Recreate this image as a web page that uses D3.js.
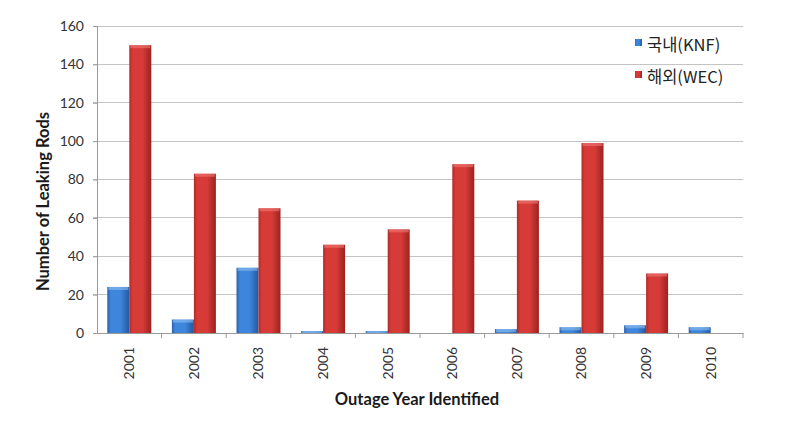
<!DOCTYPE html>
<html><head><meta charset="utf-8">
<script src="https://cdn.jsdelivr.net/npm/d3@7"></script>
<style>body{margin:0;background:#fff}svg{display:block}</style>
</head><body>
<script>
const years = ["2001","2002","2003","2004","2005","2006","2007","2008","2009","2010"];
const knf = [24, 7, 34, 1, 1, 0, 2, 3, 4, 3];
const wec = [150, 83, 65, 46, 54, 88, 69, 99, 31, 0];
const seriesNames = ["국내(KNF)", "해외(WEC)"];
const yTicks = [0, 20, 40, 60, 80, 100, 120, 140, 160];

const W = 794, H = 423;
const m = {left: 97, right: 51, top: 26, bottom: 90};
const svg = d3.select("body").append("svg").attr("width", W).attr("height", H);
const defs = svg.append("defs");
function grad(id, edge, light, edge2) {
  const g = defs.append("linearGradient").attr("id", id).attr("x1", 0).attr("x2", 1).attr("y1", 0).attr("y2", 0);
  g.append("stop").attr("offset", "0%").attr("stop-color", edge);
  g.append("stop").attr("offset", "15%").attr("stop-color", light);
  g.append("stop").attr("offset", "60%").attr("stop-color", light);
  g.append("stop").attr("offset", "100%").attr("stop-color", edge2);
}
grad("gBlue", "#2a5fa8", "#3d86dc", "#2458a0");
grad("gRed", "#b02a28", "#d63b37", "#9c2220");

const x = d3.scaleBand().domain(years).range([m.left, W - m.right]);
const xs = d3.scaleBand().domain([0, 1]).range([0, 44]);
const y = d3.scaleLinear().domain([0, 160]).range([H - m.bottom, m.top]);

const font = "Lato, 'Noto Sans', sans-serif";

// gridlines
svg.append("g").selectAll("line").data(yTicks.slice(1)).join("line")
  .attr("x1", m.left - 4).attr("x2", W - m.right)
  .attr("y1", d => y(d)).attr("y2", d => y(d))
  .attr("stroke", "#c4c4c4").attr("stroke-width", 1).attr("shape-rendering", "crispEdges");

// bars
const series = [knf, wec];
const fills = ["url(#gBlue)", "url(#gRed)"];
series.forEach((vals, si) => {
  svg.append("g").selectAll("rect").data(years).join("rect")
    .attr("x", (d) => x(d) + (x.bandwidth() - 44) / 2 + xs(si))
    .attr("width", xs.bandwidth())
    .attr("y", (d, i) => y(vals[i]))
    .attr("height", (d, i) => y(0) - y(vals[i]))
    .attr("fill", fills[si]);
  svg.append("g").selectAll("rect").data(years).join("rect")
    .attr("x", (d) => x(d) + (x.bandwidth() - 44) / 2 + xs(si) + 1)
    .attr("width", xs.bandwidth() - 2)
    .attr("y", (d, i) => y(vals[i]))
    .attr("height", (d, i) => Math.min(3, y(0) - y(vals[i])))
    .attr("fill", si === 0 ? "#8fc0f0" : "#ee7a74").attr("opacity", 0.6);
});

// y axis
const yAxis = svg.append("g").attr("transform", `translate(${m.left},0)`)
  .call(d3.axisLeft(y).tickValues(yTicks).tickSize(4).tickPadding(9));
yAxis.select(".domain").attr("stroke", "#9a9a9a");
yAxis.selectAll(".tick line").attr("stroke", "#9a9a9a");
yAxis.selectAll("text").attr("font-family", font).attr("font-size", 14).attr("fill", "#333");

// x axis
const xAxis = svg.append("g").attr("transform", `translate(0,${y(0)})`)
  .call(d3.axisBottom(x).tickSize(0));
xAxis.select(".domain").attr("stroke", "#9a9a9a");
xAxis.selectAll(".tick line").remove();
xAxis.selectAll("text").attr("font-family", font).attr("font-size", 14).attr("fill", "#333")
  .attr("transform", "rotate(-90)").attr("text-anchor", "end").attr("dy", "0.35em").attr("dx", "-14").attr("y", 0).attr("x", 0);
// between-category tick marks
svg.append("g").selectAll("line").data(years.slice(1).concat(["end"])).join("line")
  .attr("x1", (d, i) => x(years[0]) + x.step() * (i + 1))
  .attr("x2", (d, i) => x(years[0]) + x.step() * (i + 1))
  .attr("y1", y(0)).attr("y2", y(0) + 5)
  .attr("stroke", "#9a9a9a");

// titles
svg.append("text").attr("transform", `translate(49,${(y(0) + y(160)) / 2 + 22}) rotate(-90)`)
  .attr("text-anchor", "middle").attr("font-family", font).attr("font-weight", "bold")
  .attr("font-size", 16.5).attr("fill", "#1a1a1a").text("Number of Leaking Rods");
svg.append("text").attr("x", 417).attr("y", 405)
  .attr("text-anchor", "middle").attr("font-family", font).attr("font-weight", "bold")
  .attr("font-size", 16.5).attr("fill", "#1a1a1a").text("Outage Year Identified");

// legend
const lg = svg.append("g");
const legendY = [45, 77];
[0, 1].forEach(i => {
  lg.append("rect").attr("x", 635).attr("y", legendY[i] - 6).attr("width", 7).attr("height", 7).attr("fill", fills[i]);
  lg.append("text").attr("x", 647).attr("y", legendY[i]).attr("dy", "0.35em")
    .attr("font-family", "'Noto Sans CJK KR', " + font).attr("font-size", 16.5).attr("fill", "#222")
    .text(seriesNames[i]);
});
</script>
</body></html>
